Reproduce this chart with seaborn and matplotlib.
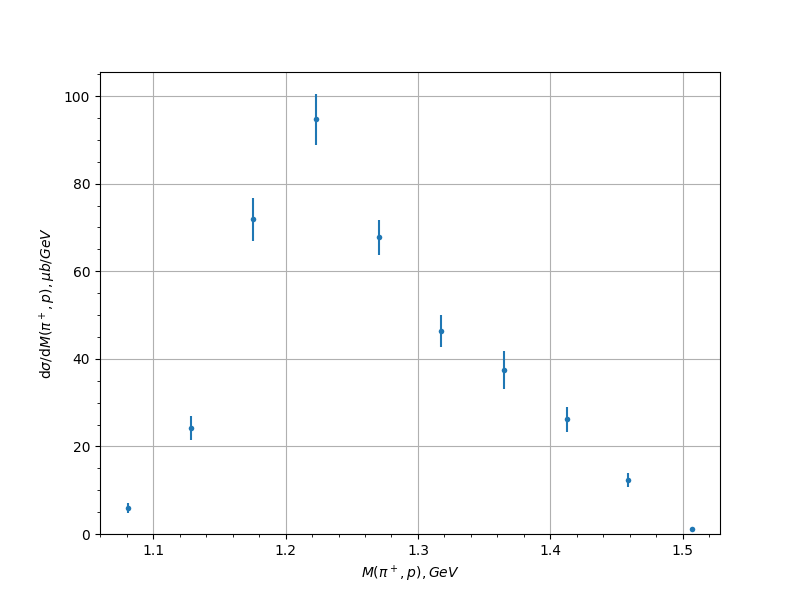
import numpy as np
import pandas as pd
import matplotlib
matplotlib.use("Agg")
import matplotlib.pyplot as plt
import seaborn as sns

# invariant mass bins and cross section values
mass = [1.081, 1.1285, 1.1755, 1.223, 1.2705, 1.3175, 1.365, 1.4125, 1.459, 1.507]
xsec = [5.95, 24.2, 71.9, 94.7, 67.7, 46.4, 37.4, 26.2, 12.3, 1.1]
xsec_err = [1.1, 2.8, 4.9, 5.8, 4.0, 3.6, 4.3, 2.8, 1.6, 0.2]

df = pd.DataFrame({"mass": mass, "xsec": xsec, "err": xsec_err})

fig, ax = plt.subplots(figsize=(8, 6), dpi=100)
ax.errorbar(df["mass"], df["xsec"], yerr=df["err"], fmt="none", ecolor="#1f77b4", elinewidth=1.5)
sns.scatterplot(data=df, x="mass", y="xsec", ax=ax, color="#1f77b4", s=16, linewidth=0, zorder=3)

ax.set_ylim(bottom=0)
ax.minorticks_on()
ax.grid(True, which="major")
ax.set_axisbelow(True)
ax.set_xlabel(r"$M(\pi^+, p), GeV$")
ax.set_ylabel(r"d$\sigma$/d$M(\pi^+, p), \mu b/GeV$")

fig.savefig("out.png")
